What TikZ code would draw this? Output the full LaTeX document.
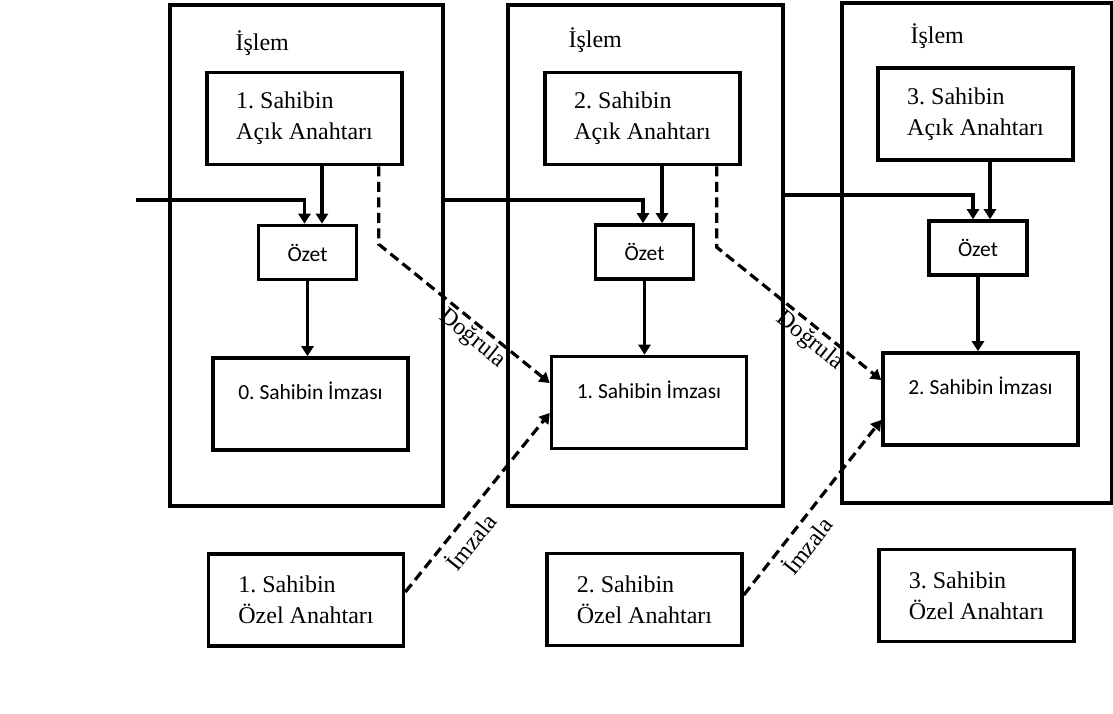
\documentclass[tikz,border=0pt]{standalone}
\usepackage{fontspec}
\setmainfont{Liberation Serif}
\newfontfamily\calibri{Carlito}
\usetikzlibrary{positioning, arrows.meta, calc}
\frenchspacing

\begin{document}
\begin{tikzpicture}[
    x=1pt, y=-1pt,
    frame/.style={draw, line width=3.6pt, inner sep=0pt},
    keybox/.style={frame, minimum width=195pt, minimum height=92pt, align=left, font=\fontsize{24}{31}\selectfont},
    sigbox/.style={frame, minimum width=195pt, minimum height=92pt, align=center, font=\calibri\fontsize{21.5}{26}\selectfont},
    hashbox/.style={frame, minimum width=98pt, minimum height=54pt, font=\calibri\fontsize{21.5}{26}\selectfont},
    lbl/.style={font=\fontsize{24}{28}\selectfont},
    arr/.style={-{Triangle[length=10pt,width=12pt]}, line width=3.2pt},
    dsharr/.style={arr, dash pattern=on 10pt off 5.5pt}
]
    \useasboundingbox (0,0) rectangle (1113,713);

    % transactions
    \node[frame, minimum width=273pt, minimum height=501pt] (islemA) at (306.5,255.5) {};
    \node[frame, minimum width=275pt, minimum height=501pt] (islemB) at (645.5,255.5) {};
    \node[frame, minimum width=270pt, minimum height=500pt] (islemC) at (977,253) {};
    \node[lbl, anchor=base west] (tA) at (232,50) {İşlem};
    \node[lbl, anchor=base west] (tB) at (565,47) {İşlem};
    \node[lbl, anchor=base west] (tC) at (907,43) {İşlem};

    % public keys
    \node[keybox] (acikA) at (304.5,118.5) {1. Sahibin\\Açık Anahtarı};
    \node[keybox] (acikB) at (642.5,118.5) {2. Sahibin\\Açık Anahtarı};
    \node[keybox] (acikC) at (975.5,114) {3. Sahibin\\Açık Anahtarı};

    % hashes
    \node[hashbox] (ozetA) at (307.5,252.5) {Özet};
    \node[hashbox] (ozetB) at (644.5,252) {Özet};
    \node[hashbox] (ozetC) at (978,248) {Özet};

    % signatures
    \node[sigbox] (imzaA) at (310.5,404) {0. Sahibin İmzası\\\mbox{}};
    \node[sigbox] (imzaB) at (649,402.5) {1. Sahibin İmzası\\\mbox{}};
    \node[sigbox] (imzaC) at (980.5,399) {2. Sahibin İmzası\\\mbox{}};

    % private keys
    \node[keybox] (ozelA) at (306,600) {1. Sahibin\\Özel Anahtarı};
    \node[keybox] (ozelB) at (644.5,599.5) {2. Sahibin\\Özel Anahtarı};
    \node[keybox] (ozelC) at (976.5,595.5) {3. Sahibin\\Özel Anahtarı};

    \coordinate (inA) at (136,200);
    \coordinate (outA) at (islemA.east |- inA);
    \coordinate (outB) at (783,195);

    % hash chain
    \draw[arr] (inA) -| ([xshift=-3pt]ozetA.north);
    \draw[arr] (outA) -| ([xshift=-1.5pt]ozetB.north);
    \draw[arr] (outB) -| ([xshift=-5pt]ozetC.north);
    \draw[arr] ([xshift=17.5pt]acikA.south) -- ([xshift=14.5pt]ozetA.north);
    \draw[arr] ([xshift=19.5pt]acikB.south) -- ([xshift=17.5pt]ozetB.north);
    \draw[arr] ([xshift=14.5pt]acikC.south) -- ([xshift=12pt]ozetC.north);
    \draw[arr] (ozetA.south) -- (ozetA.south |- imzaA.north);
    \draw[arr] (ozetB.south) -- (ozetB.south |- imzaB.north);
    \draw[arr] (ozetC.south) -- (ozetC.south |- imzaC.north);

    % verify / sign
    \draw[dsharr] ([xshift=-25pt]acikA.south east) -- ++(0,78)
        -- node[lbl, sloped, below, pos=0.6, inner sep=2pt] {Doğrula} ([yshift=19.5pt]imzaB.west);
    \draw[dsharr] ([xshift=-25pt]acikB.south east) -- ++(0,81)
        -- node[lbl, sloped, below, pos=0.62, inner sep=2pt] {Doğrula} ([yshift=19pt]imzaC.west);
    \draw[dsharr] ([yshift=8pt]ozelA.east)
        -- node[lbl, sloped, below, pos=0.35, inner sep=7pt] {İmzala} ([yshift=-10.5pt]imzaB.west);
    \draw[dsharr] ([yshift=4.5pt]ozelB.east)
        -- node[lbl, sloped, below, pos=0.35, inner sep=7pt] {İmzala} ([yshift=-21pt]imzaC.west);
\end{tikzpicture}
\end{document}
